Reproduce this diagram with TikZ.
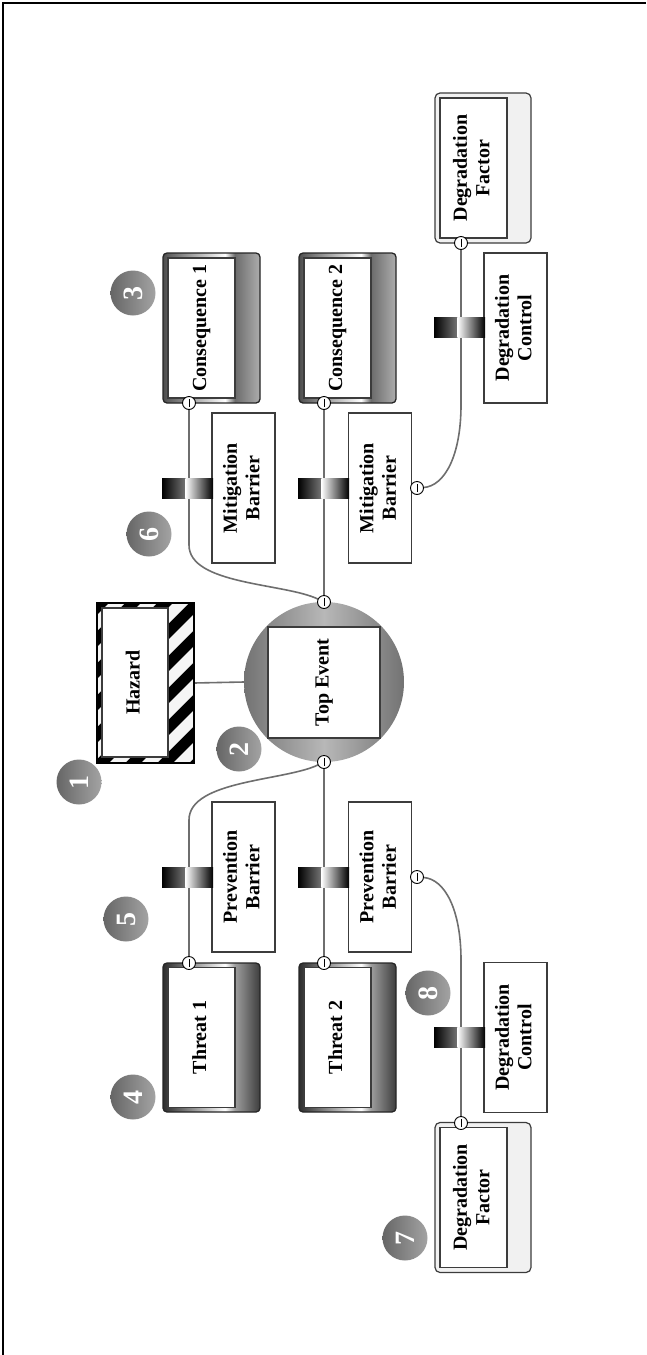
\documentclass[tikz,border=0pt]{standalone}
\usepackage{fontspec}
\setmainfont{Liberation Serif}
\usetikzlibrary{calc}

\pgfdeclarelayer{paper}
\pgfdeclarelayer{wires}
\pgfsetlayers{paper,wires,main}

\definecolor{linegray}{HTML}{6E6E6E}
\definecolor{edgegray}{HTML}{3C3C3C}
\definecolor{factorgray}{HTML}{F1F1F1}

% left-to-right fills (25bp..75bp spans the shape)
\pgfdeclarehorizontalshading{threatfill}{100bp}{rgb(0bp)=(.18,.18,.18); rgb(25bp)=(.18,.18,.18); rgb(28bp)=(.25,.25,.25); rgb(57bp)=(1,1,1); rgb(62bp)=(.62,.62,.62); rgb(75bp)=(.24,.24,.24); rgb(100bp)=(.24,.24,.24)}
\pgfdeclarehorizontalshading{consfill}{100bp}{rgb(0bp)=(.30,.30,.30); rgb(25bp)=(.30,.30,.30); rgb(28bp)=(.38,.38,.38); rgb(57bp)=(1,1,1); rgb(62bp)=(.42,.42,.42); rgb(75bp)=(.68,.68,.68); rgb(100bp)=(.68,.68,.68)}
\pgfdeclarehorizontalshading{eventfill}{100bp}{rgb(0bp)=(.45,.45,.45); rgb(25bp)=(.45,.45,.45); rgb(50bp)=(.72,.72,.72); rgb(75bp)=(.45,.45,.45); rgb(100bp)=(.45,.45,.45)}

\newcommand\lblfont{\fontsize{20}{22.5}\selectfont\bfseries}
\newcommand\lbl[1]{\rotatebox{90}{\begin{tabular}{@{}c@{}}#1\end{tabular}}}

\begin{document}
\begin{tikzpicture}[x=1pt,y=-1pt,
  every node/.style={inner sep=0pt, outer sep=0pt},
  conn/.style={draw=linegray, line width=1.6pt},
  plainbox/.style={rectangle, draw=edgegray, fill=white, line width=1.1pt, font=\lblfont},
  innerbox/.style={rectangle, draw=edgegray, fill=white, line width=1.1pt, font=\lblfont},
  threatbox/.style={rectangle, rounded corners=4pt, draw=black!85, line width=1.3pt, shading=threatfill, minimum width=97pt, minimum height=149pt},
  consbox/.style={rectangle, rounded corners=4pt, draw=black!85, line width=1.3pt, shading=consfill, minimum width=97pt, minimum height=150pt},
  factorbox/.style={rectangle, rounded corners=5pt, draw=edgegray, line width=1.2pt, fill=factorgray, minimum width=96pt, minimum height=150pt},
  wide/.style={minimum width=67pt, minimum height=140pt},
  barrierbox/.style={plainbox, minimum width=63pt, minimum height=150pt},
  block/.style={rectangle, minimum width=51pt, minimum height=20pt, fill=black,
    path picture={
      \shade[left color=black, right color=white]
        (path picture bounding box.south west) rectangle ([xshift=-2pt]path picture bounding box.north);
      \shade[left color=white, right color=black]
        ([xshift=-2.2pt]path picture bounding box.south) rectangle (path picture bounding box.north east);}},
  ic/.style={circle, draw=black, fill=white, line width=0.9pt, minimum size=13pt,
    path picture={\draw[line width=0.9pt] ([yshift=-4pt]path picture bounding box.center) -- ([yshift=4pt]path picture bounding box.center);}},
  badge/.style={circle, minimum size=45pt, left color=black!60, right color=black!36, text=white, font=\fontsize{28}{28}\selectfont\bfseries}
]
\useasboundingbox (0,0) rectangle (646,1355);
\begin{pgfonlayer}{paper}
  \fill[white] (0,0) rectangle (646,1355);
  \draw[line width=2.2pt] (2.7,1355) -- (2.7,2.7) -- (646,2.7);
\end{pgfonlayer}

% centre: top event
\node[circle, minimum size=160pt, shading=eventfill] (teo) at (324,682) {};
\node[innerbox, minimum width=112pt, minimum height=111pt] (te) at (324,682.5) {\lbl{Top Event}};

% hazard with warning stripes
\node[rectangle, draw=black, line width=1.4pt, fill=black, minimum width=97pt, minimum height=160pt] (hzo) at (145.5,683) {};
\begin{scope}
  \clip (hzo.south west) rectangle (hzo.north east);
  \foreach \c in {680,712,...,970}
    \fill[white!96!black] (97,\c-97) -- (97,\c-81) -- (194,\c-178) -- (194,\c-194) -- cycle;
\end{scope}
\draw[black, line width=1.4pt] (hzo.south west) rectangle (hzo.north east);
\node[innerbox, minimum width=66pt, minimum height=149pt] (hz) at (135,682.5) {\lbl{Hazard}};

% consequences
\node[consbox] (c1o) at (211.5,328) {};
\node[innerbox, wide] (c1) at (201.5,328) {\lbl{Consequence 1}};
\node[consbox] (c2o) at (347.5,328) {};
\node[innerbox, wide] (c2) at (337.5,328) {\lbl{Consequence 2}};

% threats
\node[threatbox] (t1o) at (211.5,1037.5) {};
\node[innerbox, wide] (t1) at (201.5,1037.5) {\lbl{Threat 1}};
\node[threatbox] (t2o) at (347.5,1037.5) {};
\node[innerbox, wide] (t2) at (337.5,1037.5) {\lbl{Threat 2}};

% barriers
\node[barrierbox] (mb1) at (243.5,488) {\lbl{Mitigation\\Barrier}};
\node[barrierbox] (mb2) at (380,488) {\lbl{Mitigation\\Barrier}};
\node[barrierbox] (pb1) at (243.5,877) {\lbl{Prevention\\Barrier}};
\node[barrierbox] (pb2) at (380,877) {\lbl{Prevention\\Barrier}};

% degradation factors and controls
\node[factorbox] (dfto) at (483,168) {};
\node[innerbox, wide] (dft) at (473.5,168) {\lbl{Degradation\\Factor}};
\node[factorbox] (dfbo) at (483,1197.5) {};
\node[innerbox, wide] (dfb) at (473.5,1197.5) {\lbl{Degradation\\Factor}};
\node[barrierbox] (dct) at (515.5,328) {\lbl{Degradation\\Control}};
\node[barrierbox] (dcb) at (515.5,1037.5) {\lbl{Degradation\\Control}};

% connection points
\node[ic] (tic) at (324,602) {};
\node[ic] (bic) at (324,762) {};
\node[ic] (c1c) at (189,403) {};
\node[ic] (c2c) at (324,403) {};
\node[ic] (t1c) at (189,963) {};
\node[ic] (t2c) at (324,963) {};
\node[ic] (m2c) at (417,488) {};
\node[ic] (p2c) at (417,877) {};
\node[ic] (dftc) at (461,243) {};
\node[ic] (dfbc) at (461,1123) {};

% barrier blocks on the lines
\node[block] (bm1) at (187.5,488) {};
\node[block] (bm2) at (323.5,488) {};
\node[block] (bp1) at (187.5,877) {};
\node[block] (bp2) at (323.5,877) {};
\node[block] (bdt) at (459.5,327.5) {};
\node[block] (bdb) at (459.5,1037.5) {};

% numbered markers
\node[badge] (n1) at (79,782) {\rotatebox{90}{1}};
\node[badge] (n2) at (239,749) {\rotatebox{90}{2}};
\node[badge] (n3) at (133,293) {\rotatebox{90}{3}};
\node[badge] (n4) at (133,1097) {\rotatebox{90}{4}};
\node[badge] (n5) at (126,919) {\rotatebox{90}{5}};
\node[badge] (n6) at (149,534) {\rotatebox{90}{6}};
\node[badge] (n7) at (405,1238) {\rotatebox{90}{7}};
\node[badge] (n8) at (428,993) {\rotatebox{90}{8}};

% connectors
\begin{pgfonlayer}{wires}
  \draw[conn] (hzo.east) -- (teo.west);
  \draw[conn] (c1c) -- (189,545) .. controls (189,585) and (285,583) .. (tic);
  \draw[conn] (c2c) -- (tic);
  \draw[conn] (t1c) -- (189,820) .. controls (189,780) and (285,781) .. (bic);
  \draw[conn] (t2c) -- (bic);
  \draw[conn] (m2c) .. controls (445,486) and (461,455) .. (461,405) -- (dftc);
  \draw[conn] (p2c) .. controls (445,879) and (461,910) .. (461,960) -- (dfbc);
\end{pgfonlayer}
\end{tikzpicture}
\end{document}
